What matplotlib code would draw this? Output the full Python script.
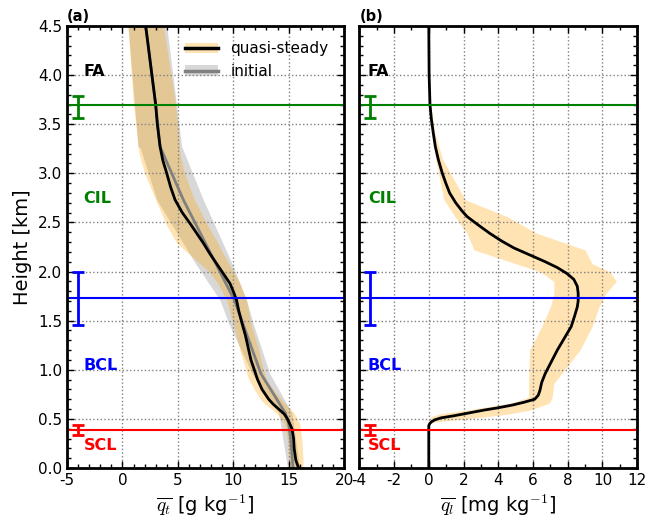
import matplotlib
matplotlib.use('Agg')
import matplotlib.pyplot as plt
import matplotlib.transforms as mtransforms
from matplotlib.patches import Patch
from matplotlib.lines import Line2D
from matplotlib.ticker import MultipleLocator

plt.rcParams['font.family'] = 'DejaVu Sans'
plt.rcParams['mathtext.fontset'] = 'cm'
plt.rcParams['axes.unicode_minus'] = False
plt.rcParams['xtick.direction'] = 'in'
plt.rcParams['ytick.direction'] = 'in'

# (a) total water, quasi-steady mean
h_qt = [0.0, 0.08, 0.2, 0.3, 0.4, 0.45, 0.50, 0.55, 0.60, 0.65, 0.70, 0.75, 0.80, 0.90, 1.0,
        1.1, 1.2, 1.35, 1.47, 1.6, 1.71, 1.80, 1.88, 1.98, 2.08, 2.18, 2.29, 2.39, 2.49,
        2.6, 2.73, 2.86, 3.0, 3.13, 3.27, 3.5, 3.7, 4.1, 4.5]
qt_qs = [15.9, 15.65, 15.5, 15.45, 15.3, 15.1, 14.9, 14.6, 14.1, 13.6, 13.2, 12.9, 12.6, 12.2, 11.9,
         11.6, 11.4, 11.1, 10.8, 10.5, 10.3, 10.0, 9.7, 9.1, 8.5, 7.9, 7.3, 6.7, 6.1,
         5.4, 4.75, 4.35, 4.0, 3.65, 3.4, 3.15, 3.0, 2.55, 2.1]
# (a) quasi-steady spread
h_qt_band = [0.0, 0.08, 0.28, 0.45, 0.52, 0.57, 0.63, 0.69, 0.80, 0.90, 1.05, 1.20, 1.47, 1.71,
             1.88, 2.00, 2.08, 2.18, 2.29, 2.49, 2.73, 3.00, 3.20, 3.70, 4.50]
qt_qs_lo = [15.0, 15.0, 14.9, 14.6, 14.2, 13.8, 13.1, 12.5, 11.9, 11.4, 11.0, 10.6, 10.0, 9.4,
            8.6, 7.8, 7.0, 6.0, 4.9, 3.9, 3.0, 2.0, 1.5, 1.0, 0.5]
qt_qs_hi = [16.3, 16.3, 16.2, 16.0, 15.7, 15.4, 14.9, 14.4, 13.6, 13.0, 12.6, 12.3, 11.6, 11.2,
            10.6, 10.0, 9.6, 9.1, 8.6, 7.6, 6.5, 5.6, 5.2, 4.8, 3.7]

# (a) total water, initial profile and spread
h_init = [0.0, 0.28, 0.45, 0.56, 0.96, 1.71, 2.73, 3.27, 3.70, 4.50]
qt_init = [15.4, 15.2, 15.0, 14.7, 12.5, 10.1, 5.5, 3.4, 3.0, 2.1]
h_init_band = [0.0, 0.56, 0.96, 1.47, 1.71, 2.08, 2.73, 3.26, 3.27, 4.50]
qt_init_lo = [14.9, 14.1, 11.7, 9.6, 8.8, 6.6, 3.1, 1.6, 1.4, 0.5]
qt_init_hi = [16.0, 15.3, 13.3, 11.8, 11.2, 9.9, 7.3, 5.4, 5.35, 4.0]

# (b) liquid water, quasi-steady mean
h_ql = [0.0, 0.43, 0.45, 0.47, 0.49, 0.51, 0.53, 0.56, 0.59, 0.61, 0.64, 0.67, 0.70, 0.74,
        0.79, 0.87, 0.96, 1.08, 1.20, 1.32, 1.44, 1.55, 1.64, 1.70, 1.78, 1.85, 1.92, 1.98,
        2.04, 2.10, 2.17, 2.24, 2.31, 2.39, 2.48, 2.56, 2.62, 2.70, 2.80, 2.90, 3.0, 3.14,
        3.27, 3.41, 3.55, 3.70, 4.0, 4.5]
ql = [0.0, 0.0, 0.05, 0.15, 0.35, 0.7, 1.4, 2.3, 3.2, 3.9, 4.8, 5.5, 6.1, 6.3,
      6.4, 6.5, 6.7, 7.05, 7.4, 7.8, 8.2, 8.4, 8.55, 8.6, 8.6, 8.55, 8.35, 7.95,
      7.4, 6.7, 5.8, 4.9, 4.2, 3.5, 2.8, 2.2, 1.9, 1.55, 1.2, 0.98, 0.78, 0.55,
      0.38, 0.26, 0.15, 0.07, 0.02, 0.0]
# (b) quasi-steady spread
h_ql_band = [0.45, 0.47, 0.52, 0.55, 0.59, 0.66, 0.72, 0.86, 1.20, 1.44, 1.64, 1.78, 1.90,
             2.00, 2.08, 2.22, 2.39, 2.56, 2.73, 3.14, 3.41, 3.70, 4.00]
ql_lo = [0.0, 0.05, 0.1, 0.6, 2.2, 4.7, 5.75, 5.75, 5.8, 6.5, 7.0, 7.2, 7.2,
         6.4, 5.0, 2.6, 2.2, 1.5, 0.87, 0.4, 0.2, 0.05, 0.0]
ql_hi = [0.0, 0.4, 3.2, 4.6, 5.85, 6.95, 7.1, 7.2, 8.7, 9.4, 9.8, 10.2, 10.8,
         10.4, 9.4, 9.0, 6.2, 4.5, 2.1, 0.8, 0.35, 0.1, 0.0]

# layer tops with uncertainty
layer_names = ['SCL', 'BCL', 'CIL', 'FA']
layer_colors = ['red', 'blue', 'green', 'black']
layer_label_h = [0.23, 1.04, 2.74, 4.04]
top_h = [0.39, 1.73, 3.70]
top_err_h = [0.385, 1.73, 3.675]
top_err = [0.05, 0.27, 0.115]

orange = 'orange'

fig = plt.figure(figsize=(6.47, 5.19), dpi=100)
ax1 = fig.add_axes([0.1036, 0.0983, 0.4281, 0.8517])
ax2 = fig.add_axes([0.5553, 0.0983, 0.4296, 0.8517])

ax1.fill_betweenx(h_init_band, qt_init_lo, qt_init_hi, color='gray', alpha=0.3, lw=0)
ax1.fill_betweenx(h_qt_band, qt_qs_lo, qt_qs_hi, color=orange, alpha=0.3, lw=0)
ax1.plot(qt_init, h_init, color='gray', lw=2)
ax1.plot(qt_qs, h_qt, color='black', lw=2)

ax2.fill_betweenx(h_ql_band, ql_lo, ql_hi, color=orange, alpha=0.3, lw=0)
ax2.plot(ql, h_ql, color='black', lw=2)

for ax, xlim, major, label in [(ax1, (-5, 20), 5, r'$\overline{q_t}$ [g kg$^{-1}$]'),
                               (ax2, (-4, 12), 2, r'$\overline{q_l}$ [mg kg$^{-1}$]')]:
    ax.set_xlim(*xlim)
    ax.set_ylim(0, 4.5)
    ax.xaxis.set_major_locator(MultipleLocator(major))
    ax.xaxis.set_minor_locator(MultipleLocator(1))
    ax.yaxis.set_major_locator(MultipleLocator(0.5))
    ax.yaxis.set_minor_locator(MultipleLocator(0.1))
    ax.tick_params(which='both', top=True, right=True, labelsize=11)
    ax.tick_params(which='major', length=5, width=1)
    ax.tick_params(which='minor', length=3, width=1)
    ax.grid(True, which='major', linestyle=':', color='gray', lw=1)
    for s in ax.spines.values():
        s.set_linewidth(2)
    ax.set_xlabel(label, fontsize=14)

    for h, c in zip(top_h, layer_colors[:3]):
        ax.axhline(h, color=c, lw=1.5)
    trans = mtransforms.blended_transform_factory(ax.transAxes, ax.transData)
    for h, e, c in zip(top_err_h, top_err, layer_colors[:3]):
        ax.errorbar(0.04, h, yerr=e, color=c, lw=2, capsize=4, capthick=2, transform=trans)
    for name, c, h in zip(layer_names, layer_colors, layer_label_h):
        ax.text(-3.5, h, name, color=c, fontsize=11.5, fontweight='bold', ha='left', va='center')

ax1.yaxis.set_major_formatter(plt.FormatStrFormatter('%.1f'))
ax2.set_yticklabels([])
ax1.set_ylabel('Height [km]', fontsize=14)

ax1.text(0.0, 1.005, '(a)', transform=ax1.transAxes, fontsize=10.5, fontweight='bold', va='bottom')
ax2.text(0.0, 1.005, '(b)', transform=ax2.transAxes, fontsize=10.5, fontweight='bold', va='bottom')

h_qs = (Patch(facecolor=orange, alpha=0.3, lw=0), Line2D([], [], color='black', lw=2.5))
h_in = (Patch(facecolor='gray', alpha=0.3, lw=0), Line2D([], [], color='gray', lw=2.5))
ax1.legend([h_qs, h_in], ['quasi-steady', 'initial'], loc='upper right', frameon=False,
           fontsize=11, handlelength=2.2, borderaxespad=0.6)

fig.savefig('out.png', dpi=100)
